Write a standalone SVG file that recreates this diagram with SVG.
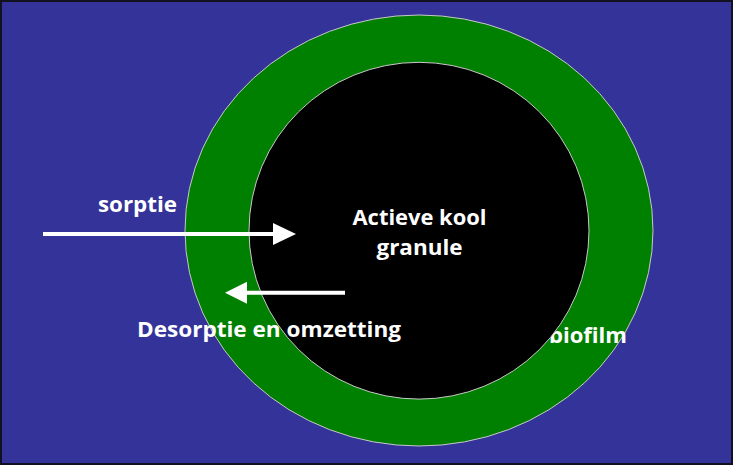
<svg xmlns="http://www.w3.org/2000/svg" width="733" height="465" viewBox="0 0 733 465">
<style>
.lbl{font-family:"Open Sans","Liberation Sans",sans-serif;font-weight:bold;font-size:22px;fill:#ffffff;text-anchor:middle}
.ring{stroke:#c8c8c8;stroke-width:1}
.arr{stroke:#ffffff;stroke-width:4;fill:none}
.head{fill:#ffffff}
</style>
<rect x="1" y="1" width="731" height="463" fill="#333399" stroke="#111122" stroke-width="2"/>
<g id="biofilm">
<ellipse class="ring" cx="419" cy="230.5" rx="234" ry="215.5" fill="#008000"/>
<text class="lbl" x="588" y="342.5" textLength="78" lengthAdjust="spacingAndGlyphs">biofilm</text>
</g>
<g id="granule">
<ellipse class="ring" cx="419" cy="230.7" rx="170" ry="168.4" fill="#000000"/>
<text class="lbl" x="419.5" y="225" textLength="134" lengthAdjust="spacingAndGlyphs">Actieve kool</text>
<text class="lbl" x="419.5" y="255" textLength="86" lengthAdjust="spacingAndGlyphs">granule</text>
</g>
<g id="connectors">
<line class="arr" x1="43" y1="234" x2="275" y2="234"/>
<polygon class="head" points="273,223 296,234 273,245"/>
<line class="arr" x1="345" y1="292.7" x2="245" y2="292.7"/>
<polygon class="head" points="247,281.7 225,292.7 247,303.7"/>
</g>
<g id="labels">
<text class="lbl" x="137.5" y="212" textLength="79" lengthAdjust="spacingAndGlyphs">sorptie</text>
<text class="lbl" x="269" y="337.3" textLength="264" lengthAdjust="spacingAndGlyphs">Desorptie en omzetting</text>
</g>
</svg>
